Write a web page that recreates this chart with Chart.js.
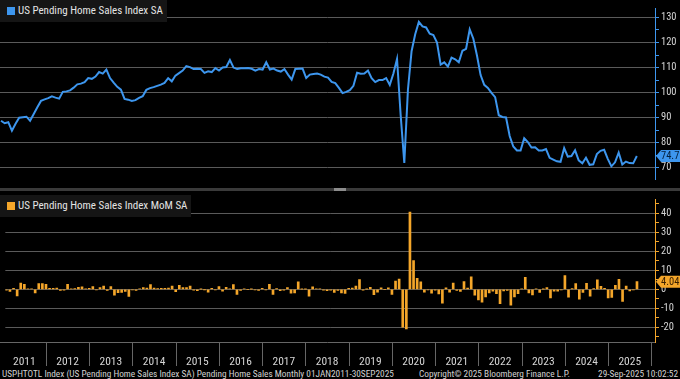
<!DOCTYPE html>
<html>
<head>
<meta charset="utf-8">
<script src="https://cdn.jsdelivr.net/npm/chart.js@4.4.1/dist/chart.umd.min.js"></script>
<style>
  html, body { margin: 0; padding: 0; background: #000; }
  body {
    width: 680px;
    height: 379px;
    position: relative;
    overflow: hidden;
    font-family: 'Roboto Condensed', 'DejaVu Sans Condensed', sans-serif;
  }
  canvas { position: absolute; left: 0; }
  #indexChart { top: 0; }
  #momChart { top: 191px; }
  .legend {
    position: absolute;
    left: 0;
    height: 22px;
    background: #151515;
    color: #e4e4e4;
    font-size: 11px;
    line-height: 22px;
    padding: 0 4px 0 18px;
    white-space: nowrap;
  }
  .legend i { position: absolute; left: 7px; top: 7px; width: 8px; height: 8px; }
  #divider { position: absolute; left: 0; top: 188px; width: 680px; height: 3px; background: #3a3a3a; }
  #divider b { position: absolute; left: 334px; top: 0; width: 12px; height: 3px; background: #8c8c8c; }
  .foot { position: absolute; top: 368px; font-size: 9.3px; line-height: 11px; color: #d2d2d2; white-space: nowrap; }
</style>
</head>
<body>
<canvas id="indexChart" width="680" height="188"></canvas>
<div id="divider"><b></b></div>
<canvas id="momChart" width="680" height="176"></canvas>
<div class="legend" style="top:0"><i style="background:#3d96ee"></i>US Pending Home Sales Index SA</div>
<div class="legend" style="top:195px"><i style="background:#f4a62a"></i>US Pending Home Sales Index MoM SA</div>
<div class="foot" style="left:2px">USPHTOTL Index (US Pending Home Sales Index SA) Pending Home Sales Monthly 01JAN2011-30SEP2025</div>
<div class="foot" style="left:419px">Copyright© 2025 Bloomberg Finance L.P.</div>
<div class="foot" style="right:2px">29-Sep-2025 10:02:52</div>
<script>
const YEARS = [
  '2011', '2012', '2013', '2014', '2015', '2016', '2017', '2018',
  '2019', '2020', '2021', '2022', '2023', '2024', '2025',
]

// monthly, Jan 2011 .. Aug 2025
const PENDING_INDEX = [
  88.8, 87.8, 88.2, 84.8, 87.6, 90.0, 90.2, 90.4, 88.8, 91.5, 94.2, 96.7,
  97.3, 97.8, 98.5, 98.0, 97.6, 100.3, 100.5, 100.9, 102.0, 103.3, 103.6, 104.2,
  105.8, 105.5, 106.4, 108.2, 107.6, 109.2, 105.8, 104.0, 102.3, 101.2, 97.5, 97.2,
  96.7, 97.0, 97.9, 98.6, 101.1, 101.8, 102.2, 102.7, 103.2, 103.9, 105.8, 104.5,
  106.8, 107.8, 108.8, 110.6, 110.2, 109.4, 109.5, 109.4, 107.9, 108.5, 108.2, 109.8,
  108.8, 110.0, 110.2, 113.0, 110.0, 109.4, 109.7, 109.7, 109.8, 109.5, 108.8, 109.4,
  109.2, 112.1, 109.2, 109.6, 108.8, 108.4, 109.4, 107.2, 105.2, 109.4, 109.5, 109.6,
  105.8, 107.2, 107.4, 107.6, 107.2, 106.4, 106.0, 104.3, 103.8, 101.9, 99.8, 100.3,
  101.0, 102.7, 107.9, 107.5, 107.6, 108.8, 105.8, 104.2, 105.0, 105.0, 105.8, 103.1,
  107.6, 113.4, 91.0, 72.0, 101.2, 116.5, 123.3, 128.2, 126.4, 126.0, 123.5, 123.0,
  120.0, 111.2, 112.1, 110.4, 114.0, 113.3, 112.1, 116.7, 117.5, 125.2, 121.5, 114.8,
  107.0, 103.1, 101.9, 99.9, 98.2, 91.0, 90.3, 90.1, 82.7, 78.5, 76.9, 76.9,
  81.8, 80.3, 78.1, 78.2, 76.9, 76.9, 77.5, 74.0, 73.3, 72.6, 72.4, 77.9,
  74.5, 74.7, 77.0, 73.0, 71.8, 74.0, 71.2, 71.4, 75.5, 76.8, 77.2, 73.6,
  70.6, 72.2, 76.1, 71.3, 72.5, 71.9, 71.8, 74.7,
]

const PENDING_MOM = [
  -0.4, -1.1, 0.5, -3.4, 3.3, 2.7, 0.2, 0.2, -1.8, 3.0, 3.0, 2.6,
  0.6, 0.5, 0.7, -0.5, -0.4, 2.6, 0.2, 0.4, 1.1, 1.3, 0.3, 0.6,
  1.5, -0.3, 0.9, 1.7, -0.6, 1.5, -3.1, -1.7, -1.6, -1.1, -3.7, -0.3,
  -0.5, 0.3, 0.9, 0.7, 2.5, 0.7, 0.4, 0.5, 0.5, 0.7, 1.8, -1.2,
  2.2, 0.9, 0.9, 1.7, -0.4, -0.7, 0.1, -0.1, -1.4, 0.6, -0.3, 1.5,
  -0.9, 1.1, 0.2, 2.5, -2.7, -0.5, 0.3, 0.0, 0.1, -0.3, -0.6, 0.6,
  -0.2, 2.7, -2.6, 0.4, -0.7, -0.4, 0.9, -2.0, -1.9, 4.0, 0.1, 0.1,
  -3.5, 1.3, 0.2, 0.2, -0.4, -0.7, -0.4, -1.6, -0.5, -1.8, -2.1, 0.5,
  0.7, 1.7, 5.1, -0.4, 0.1, 1.1, -2.8, -1.5, 0.8, 0.0, 0.8, -2.6,
  4.4, 5.4, -19.8, -20.8, 40.6, 15.1, 5.8, 4.0, -1.4, -0.3, -2.0, -0.4,
  -2.4, -7.3, 0.8, -1.5, 3.3, -0.6, -1.1, 4.1, 0.7, 6.6, -3.0, -5.5,
  -6.7, -4.0, -1.8, -1.0, -2.2, -7.5, -0.8, -0.5, -8.3, -4.0, -2.2, 0.2,
  6.3, -1.8, -2.9, 0.3, -1.6, 0.1, 1.0, -4.5, -0.9, -0.9, -0.3, 7.3,
  -4.1, 0.4, 3.0, -5.1, -1.6, 3.2, -3.6, 0.4, 5.0, 1.6, 0.5, -4.5,
  -4.2, 2.2, 5.3, -6.3, 1.7, -0.8, -0.3, 4.04,
]

const INDEX_TICKS = [70, 75, 80, 85, 90, 95, 100, 105, 110, 115, 120, 125, 130]
const MOM_TICKS = [-25, -20, -15, -10, -5, 0, 5, 10, 15, 20, 25, 30, 35, 40, 45]

const BLUE = '#3d96ee'
const ORANGE = '#f4a62a'
const GRID = '#5a5a5a'
const LABEL = '#d4d4d4'
const FONT = "'Roboto Condensed', 'DejaVu Sans Condensed', sans-serif"

// months since 1 Jan 2011, points sit on month end
const X_MIN = 0.72
const X_MAX = 181

function toPoints(values) {
  return values.map((y, i) => ({ x: i + 1, y }))
}

function yAxis(ticks, min, max, color) {
  return {
    position: 'right',
    min,
    max,
    afterBuildTicks: (scale) => {
      scale.ticks = ticks.map((value) => ({ value }))
    },
    afterFit: (scale) => {
      scale.width = 25
    },
    border: { display: true, color, width: 1 },
    grid: {
      color: (ctx) => (ctx.tick && ctx.tick.value % 10 === 0 ? GRID : 'rgba(0,0,0,0)'),
      tickColor: color,
      tickLength: 4,
    },
    ticks: {
      autoSkip: false,
      padding: 2,
      color: LABEL,
      font: { family: FONT, size: 10.5 },
      callback: (value) => (value % 10 === 0 ? String(value) : ''),
    },
  }
}

const lastValueTag = {
  id: 'lastValueTag',
  afterDraw(chart, args, opts) {
    const { ctx, chartArea } = chart
    const y = chart.scales.y.getPixelForValue(opts.value)
    const x = chartArea.right + 1
    ctx.save()
    ctx.fillStyle = opts.background
    ctx.beginPath()
    ctx.moveTo(x, y)
    ctx.lineTo(x + 5, y - 6)
    ctx.lineTo(chart.width, y - 6)
    ctx.lineTo(chart.width, y + 6)
    ctx.lineTo(x + 5, y + 6)
    ctx.closePath()
    ctx.fill()
    ctx.fillStyle = opts.color
    ctx.font = `10.5px ${FONT}`
    ctx.textBaseline = 'middle'
    ctx.fillText(opts.label, x + 5, y + 0.5)
    ctx.restore()
  },
}

const yearDividers = {
  id: 'yearDividers',
  afterDraw(chart) {
    const { ctx, chartArea } = chart
    const xScale = chart.scales.x
    ctx.save()
    ctx.strokeStyle = '#666'
    ctx.lineWidth = 1
    ctx.beginPath()
    ctx.moveTo(0, chartArea.bottom + 0.5)
    ctx.lineTo(chartArea.right, chartArea.bottom + 0.5)
    YEARS.forEach((year, k) => {
      const px = Math.round(xScale.getPixelForValue((k + 1) * 12)) + 0.5
      ctx.moveTo(px, chartArea.bottom)
      ctx.lineTo(px, chartArea.bottom + 24)
    })
    ctx.stroke()
    ctx.restore()
  },
}

function initializeIndexChart() {
  const last = PENDING_INDEX[PENDING_INDEX.length - 1]
  return new Chart(document.getElementById('indexChart'), {
    type: 'line',
    data: {
      datasets: [
        {
          data: toPoints(PENDING_INDEX),
          borderColor: BLUE,
          borderWidth: 2,
          pointRadius: 0,
          tension: 0,
        },
      ],
    },
    options: {
      responsive: false,
      animation: false,
      layout: { padding: 0 },
      scales: {
        x: { type: 'linear', min: X_MIN, max: X_MAX, display: false },
        y: yAxis(INDEX_TICKS, 65.27, 133.64, BLUE),
      },
      plugins: {
        legend: { display: false },
        tooltip: { enabled: false },
        lastValueTag: { value: last, label: last.toFixed(1), background: BLUE, color: '#04203d' },
      },
    },
    plugins: [lastValueTag],
  })
}

function initializeMomChart() {
  const last = PENDING_MOM[PENDING_MOM.length - 1]
  return new Chart(document.getElementById('momChart'), {
    type: 'bar',
    data: {
      datasets: [
        {
          data: toPoints(PENDING_MOM),
          backgroundColor: ORANGE,
          barThickness: 2,
        },
      ],
    },
    options: {
      responsive: false,
      animation: false,
      layout: { padding: { top: 1 } },
      scales: {
        x: {
          type: 'linear',
          min: X_MIN,
          max: X_MAX,
          offset: false,
          afterBuildTicks: (scale) => {
            scale.ticks = YEARS.map((year, k) => ({ value: k * 12 + 6 }))
          },
          afterFit: (scale) => {
            scale.height = 25
          },
          border: { display: false },
          grid: { display: false, drawTicks: false },
          ticks: {
            autoSkip: false,
            maxRotation: 0,
            padding: 13,
            color: LABEL,
            font: { family: FONT, size: 11.5 },
            callback: (value) => YEARS[(value - 6) / 12],
          },
        },
        y: yAxis(MOM_TICKS, -27.65, 47.35, ORANGE),
      },
      plugins: {
        legend: { display: false },
        tooltip: { enabled: false },
        lastValueTag: { value: last, label: last.toFixed(2), background: ORANGE, color: '#3a2000' },
      },
    },
    plugins: [lastValueTag, yearDividers],
  })
}

initializeIndexChart()
initializeMomChart()
</script>
</body>
</html>
